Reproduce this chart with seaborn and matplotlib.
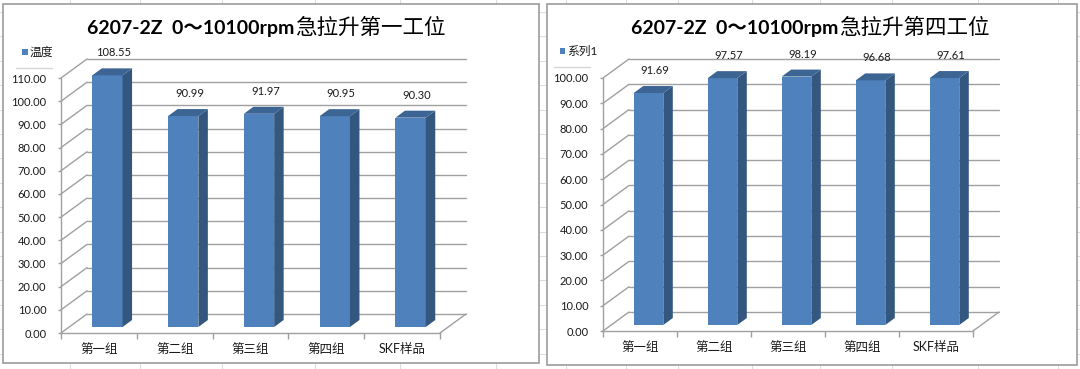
import numpy as np
import pandas as pd
import matplotlib
matplotlib.use("Agg")
import matplotlib.pyplot as plt
import matplotlib.transforms as mtrans
from matplotlib.patches import Polygon, Rectangle
from matplotlib.lines import Line2D
import seaborn as sns

# ---------------- data ----------------
categories = ["第一组", "第二组", "第三组", "第四组", "SKF样品"]
values_left = [108.55, 90.99, 91.97, 90.95, 90.30]
values_right = [91.69, 97.57, 98.19, 96.68, 97.61]
yticks_left = [0, 10, 20, 30, 40, 50, 60, 70, 80, 90, 100, 110]
yticks_right = [0, 10, 20, 30, 40, 50, 60, 70, 80, 90, 100]
title_left_a, title_left_b = "6207-2Z  0～10100rpm", "急拉升第一工位"
title_right_a, title_right_b = "6207-2Z  0～10100rpm", "急拉升第四工位"
legend_left = "温度"
legend_right = "系列1"

# ---------------- style ----------------
sns.set_theme(style="white")
plt.rcParams["font.family"] = ["Lato", "Noto Sans CJK SC", "DejaVu Sans"]

W, H, DPI = 1080, 369, 100
FRONT, SIDE, TOP = "#4F81BD", "#34577F", "#3D6594"
GRID = "#A0A0A0"
TXT = "#1a1a1a"

fig = plt.figure(figsize=(W / DPI, H / DPI), dpi=DPI)
fig.patch.set_facecolor("white")

# faint spreadsheet grid behind the chart panels
for k in range(16):
    y = 12 + 24.4 * k
    fig.add_artist(Line2D([0, 1], [1 - y / H, 1 - y / H], transform=fig.transFigure,
                          color="#dcdcdc", lw=0.8, zorder=-2))
for x in [70, 140, 222, 315, 400, 496, 566, 626, 678, 752, 820, 892, 978, 1058]:
    fig.add_artist(Line2D([x / W, x / W], [0, 1], transform=fig.transFigure,
                          color="#dcdcdc", lw=0.8, zorder=-2))


def draw_panel(box, plane, values, ticks, title_a, title_b, title_cx, legend_name, legend_xy):
    x0, y0, x1, y1 = box
    fig.add_artist(Rectangle((x0 / W, 1 - y1 / H), (x1 - x0) / W, (y1 - y0) / H,
                             transform=fig.transFigure, fc="white", ec="#9c9c9c",
                             lw=1.2, zorder=-1))
    l, r, b, t = plane
    ax = fig.add_axes([l / W, 1 - b / H, (r - l) / W, (b - t) / H])
    ax.set_facecolor("none")
    df = pd.DataFrame({"组别": categories, "值": values})
    sns.barplot(data=df, x="组别", y="值", ax=ax, color=FRONT, saturation=1,
                width=0.40, zorder=3, edgecolor="none")
    n = len(categories)
    ax.set_xlim(-0.5, n - 0.5)
    ax.set_ylim(ticks[0], ticks[-1])
    ax.set_xlabel("")
    ax.set_ylabel("")

    to_disp = ax.transData.transform
    to_data = ax.transData.inverted().transform

    def shift(pts, dx, dy):
        d = to_disp(np.array(pts, dtype=float)) + np.array([dx, dy])
        return to_data(d)

    wdx, wdy = 26, 19     # depth of the walls (px)
    fdx, fdy = 8.5, 6     # front face of bars behind front plane
    bdx, bdy = 9.5, 7     # bar depth

    # back wall gridlines + left wall diagonals
    for v in ticks:
        g = shift([(-0.5, v), (n - 0.5, v)], wdx, wdy)
        ax.plot(g[:, 0], g[:, 1], color=GRID, lw=1.0, zorder=1, clip_on=False)
        d1 = shift([(-0.5, v)], wdx, wdy)
        ax.plot([-0.5, d1[0, 0]], [v, d1[0, 1]], color=GRID, lw=1.0,
                zorder=1, clip_on=False)
    fr = shift([(n - 0.5, 0)], wdx, wdy)
    ax.plot([n - 0.5, fr[0, 0]], [0, fr[0, 1]], color=GRID, lw=1.0, zorder=1, clip_on=False)

    bars = list(ax.patches)
    off = mtrans.ScaledTranslation(fdx / DPI, fdy / DPI, fig.dpi_scale_trans)
    for p, val in zip(bars, values):
        x, w, h = p.get_x(), p.get_width(), p.get_height()
        p.set_transform(ax.transData + off)
        p.set_clip_on(False)
        f = shift([(x, 0), (x + w, 0), (x + w, h), (x, h)], fdx, fdy)
        bk = shift([(x, 0), (x + w, 0), (x + w, h), (x, h)], fdx + bdx, fdy + bdy)
        side = Polygon([f[1], f[2], bk[2], bk[1]], closed=True, fc=SIDE, ec="none",
                       zorder=3, clip_on=False)
        top = Polygon([f[3], f[2], bk[2], bk[3]], closed=True, fc=TOP, ec="none",
                      zorder=3, clip_on=False)
        ax.add_patch(side)
        ax.add_patch(top)
        lab = shift([(x + w / 2, h)], 15, fdy + bdy + 10)
        ax.text(lab[0, 0], lab[0, 1], f"{val:.2f}", ha="center", va="bottom",
                fontsize=8, color=TXT, clip_on=False, zorder=5)

    # axes lines and ticks
    for s in ["top", "right"]:
        ax.spines[s].set_visible(False)
    for s in ["left", "bottom"]:
        ax.spines[s].set_color(GRID)
        ax.spines[s].set_linewidth(1.0)
    ax.set_yticks(ticks)
    ax.set_yticklabels([f"{v:.2f}" for v in ticks])
    ax.tick_params(axis="y", which="major", left=True, length=2.5, width=1, color=GRID,
                   pad=8, labelsize=8, labelcolor=TXT)
    ax.set_xticks(range(n))
    ax.set_xticklabels(categories)
    ax.set_xticks(np.arange(-0.5, n, 1.0), minor=True)
    ax.tick_params(axis="x", which="major", bottom=True, length=0, pad=7.5,
                   labelsize=9, labelcolor=TXT)
    ax.tick_params(axis="x", which="minor", bottom=True, length=4, width=1, color=GRID)
    ax.grid(False)

    # title (latin part bold, CJK part regular)
    t1 = fig.text(0, 1 - 34 / H, title_a, fontsize=14, fontweight="bold",
                  color="#000000", ha="left", va="baseline")
    t2 = fig.text(0, 1 - 34 / H, title_b, fontsize=15.5, fontweight="normal",
                  family=["Noto Sans CJK SC"], color="#000000", ha="left", va="baseline")
    rend = fig.canvas.get_renderer()
    w1 = t1.get_window_extent(rend).width
    w2 = t2.get_window_extent(rend).width
    start = title_cx - (w1 + w2) / 2
    t1.set_x(start / W)
    t2.set_x((start + w1 + 1) / W)

    # legend
    lx, ly = legend_xy
    fig.add_artist(Rectangle((lx / W, 1 - (ly + 3) / H), 5.5 / W, 5.5 / H,
                             transform=fig.transFigure, fc=FRONT, ec="none"))
    fig.text((lx + 7.5) / W, 1 - ly / H, legend_name, fontsize=8.5, color=TXT,
             ha="left", va="center")
    fig.add_artist(Line2D([(lx - 6) / W, (lx + 30) / W], [1 - (ly + 16) / H] * 2,
                          transform=fig.transFigure, color="#d6d6d6", lw=1))
    return ax


draw_panel((3, 4, 539, 363), (61, 440, 333, 78), values_left, yticks_left,
           title_left_a, title_left_b, 266, legend_left, (22, 52))
draw_panel((547, 4, 1077, 365), (603, 973, 331, 78), values_right, yticks_right,
           title_right_a, title_right_b, 810, legend_right, (560, 51))

fig.savefig("out.png", dpi=DPI, facecolor="white")
